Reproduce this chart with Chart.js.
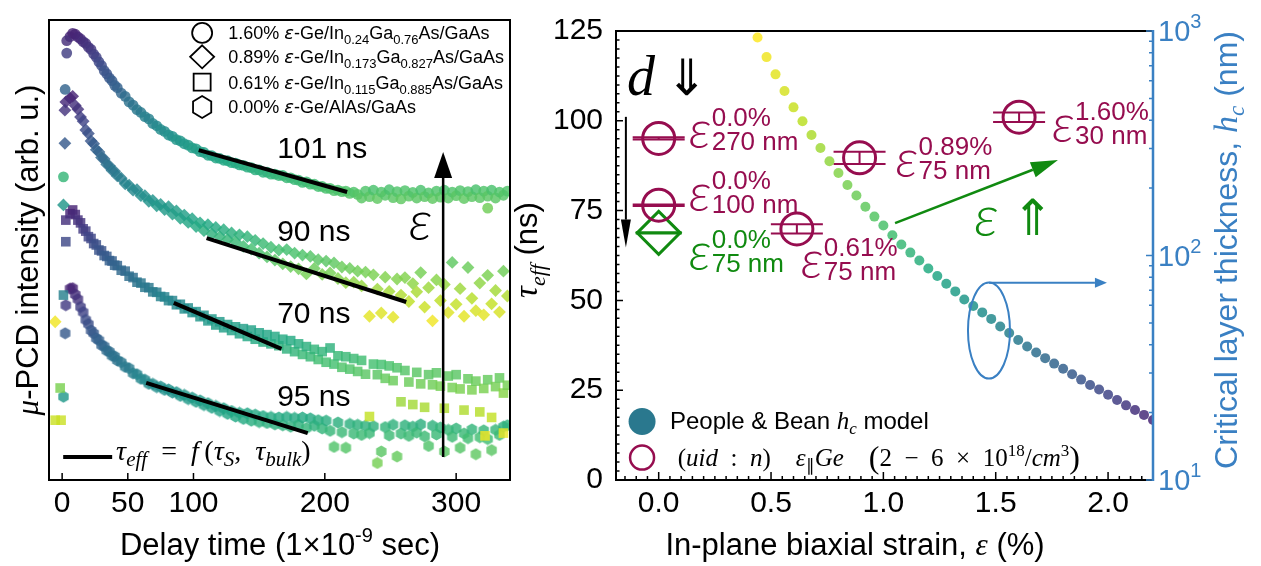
<!DOCTYPE html>
<html>
<head>
<meta charset="utf-8">
<title>Strained Ge lifetime</title>
<script src="https://cdn.jsdelivr.net/npm/chart.js@4.4.1/dist/chart.umd.min.js"></script>
<style>
  html, body { margin: 0; padding: 0; background: #fff; }
  #wrap { position: relative; width: 1261px; height: 566px; }
  #wrap canvas { position: absolute; left: 0; top: 0; }
</style>
</head>
<body>
<div id="wrap">
  <canvas id="decay" width="1261" height="566"></canvas>
  <canvas id="strain" width="1261" height="566"></canvas>
</div>
<script>
// ---------- left panel: u-PCD transients (delay in ns, signal in arb. u., curves offset) ----------
const delayTime = [6, 8, 10, 12, 14, 16, 18, 20, 22, 24,
  26, 28, 30, 32, 34, 36, 38, 40, 42, 45,
  48, 51, 54, 57, 60, 63, 66, 69, 72, 75,
  78, 81, 84, 87, 90, 93, 96, 99, 102, 105,
  108, 111, 114, 117, 120, 123, 126, 129, 132, 135,
  138, 141, 144, 147, 150, 153, 156, 159, 162, 165,
  168, 171, 174, 177, 180, 183, 186, 189, 192, 195,
  198, 201, 204, 207, 210, 213, 216, 219, 222, 225,
  228, 231, 234, 237, 240, 243, 246, 249, 252, 255,
  258, 261, 264, 267, 270, 273, 276, 279, 282, 285,
  288, 291, 294, 297, 300, 303, 306, 309, 312, 315,
  318, 321, 324, 327, 330, 333, 336, 339];

// 1.60 % (circles)
const decay160 = [96.4, 97.1, 96.9, 96.3, 95.9, 95.3, 94.9, 94.1, 93.6, 92.6,
  91.9, 90.9, 90.1, 89.0, 88.3, 87.4, 86.8, 85.8, 85.3, 84.1,
  83.4, 82.2, 81.5, 80.5, 79.9, 79.0, 78.5, 77.5, 77.0, 76.2,
  75.8, 75.0, 74.7, 74.0, 73.7, 73.1, 72.8, 72.2, 72.0, 71.4,
  71.2, 70.6, 70.5, 70.0, 69.9, 69.5, 69.4, 69.0, 68.9, 68.5,
  68.4, 68.0, 67.9, 67.4, 67.4, 66.9, 66.9, 66.5, 66.5, 66.2,
  66.2, 65.7, 65.7, 65.3, 65.2, 64.7, 64.8, 64.3, 64.3, 63.8,
  63.8, 63.4, 63.4, 62.9, 63.0, 62.7, 62.8, 62.3, 62.6, 62.1,
  61.3, 62.8, 61.6, 63.0, 61.2, 62.6, 61.9, 63.1, 61.4, 62.7,
  61.1, 62.9, 61.7, 62.5, 61.3, 63.0, 61.6, 62.4, 61.2, 62.8,
  61.5, 63.0, 61.3, 62.6, 61.8, 62.9, 61.2, 62.7, 61.6, 63.1,
  61.4, 62.8, 61.7, 63.0, 61.3, 62.6, 61.9, 62.8];

// 0.89 % (diamonds)
const decay089 = [83.0, 83.4, 81.4, 80.6, 78.9, 78.0, 76.1, 75.3, 73.7, 73.1,
  71.8, 71.3, 70.1, 69.8, 68.6, 68.3, 67.3, 67.1, 66.1, 65.6,
  64.4, 64.1, 63.0, 63.1, 61.8, 61.8, 60.6, 60.8, 59.6, 59.9,
  58.8, 59.4, 57.8, 58.5, 56.9, 57.6, 56.0, 56.8, 55.1, 55.9,
  54.2, 55.5, 53.5, 54.9, 52.9, 54.4, 52.3, 53.7, 51.8, 53.3,
  50.8, 52.9, 50.2, 52.1, 49.3, 51.4, 48.5, 50.6, 47.8, 50.0,
  47.0, 50.1, 46.4, 49.3, 45.9, 48.9, 44.8, 48.6, 46.0, 47.9,
  44.7, 47.6, 45.0, 47.2, 43.8, 46.3, 42.9, 46.0, 43.0, 45.4,
  42.2, 45.2, 35.6, 44.6, 41.5, 36.3, 44.1, 41.0, 35.4, 43.7,
  40.2, 44.0, 38.8, 42.7, 40.9, 45.1, 37.6, 41.8, 34.6, 43.5,
  39.0, 42.5, 36.4, 47.3, 38.2, 41.6, 35.6, 46.2, 39.5, 36.8,
  42.8, 35.9, 44.5, 38.3, 41.2, 36.5, 45.4, 40.0];

// 0.61 % (squares)
const decay061 = [57.9, 58.7, 57.7, 56.5, 55.9, 54.6, 54.1, 52.9, 52.5, 51.4,
  51.1, 50.0, 49.8, 48.8, 48.6, 47.7, 47.6, 46.7, 46.6, 45.6,
  45.4, 44.3, 44.0, 43.0, 42.8, 41.9, 41.8, 40.9, 40.8, 39.9,
  39.8, 39.0, 39.0, 38.1, 38.2, 37.2, 37.4, 36.4, 36.6, 35.5,
  35.8, 34.6, 35.0, 33.7, 34.4, 33.1, 33.8, 32.5, 33.3, 31.8,
  32.9, 31.2, 32.6, 30.6, 32.0, 30.0, 31.6, 29.6, 31.2, 29.2,
  30.6, 28.5, 30.3, 27.9, 29.6, 27.3, 29.0, 26.8, 28.4, 26.2,
  27.9, 25.6, 28.7, 25.2, 27.0, 24.5, 26.8, 24.1, 26.4, 23.6,
  26.0, 23.0, 13.8, 25.2, 22.9, 25.1, 22.1, 24.8, 21.6, 24.4,
  17.0, 23.8, 21.3, 16.4, 23.4, 20.9, 15.8, 22.9, 20.7, 23.3,
  20.4, 15.6, 22.6, 20.1, 22.9, 19.8, 15.2, 22.0, 19.6, 21.5,
  14.8, 19.9, 21.8, 13.6, 20.3, 22.2, 18.9, 20.6];

// 0.00 % (hexagons)
const decay000 = [41.6, 41.7, 40.3, 39.3, 37.6, 36.5, 34.8, 33.9, 32.5, 31.9,
  30.8, 30.4, 29.3, 29.1, 28.1, 27.9, 27.0, 26.9, 26.0, 25.6,
  24.6, 24.3, 23.2, 23.0, 22.0, 21.8, 20.9, 20.9, 20.2, 20.3,
  19.6, 19.7, 19.0, 19.1, 18.3, 18.5, 17.6, 17.9, 17.0, 17.3,
  16.3, 16.7, 15.7, 16.1, 15.0, 15.6, 14.4, 15.0, 13.8, 14.6,
  13.3, 14.5, 12.9, 14.2, 12.6, 13.9, 12.4, 13.7, 12.1, 13.6,
  11.9, 13.7, 11.6, 13.5, 12.0, 13.6, 11.3, 13.4, 11.8, 13.0,
  11.2, 12.9, 10.7, 7.2, 12.5, 10.4, 7.0, 12.2, 10.1, 12.0,
  9.8, 11.8, 10.2, 11.7, 3.7, 6.2, 11.5, 9.7, 12.0, 5.1,
  10.1, 11.9, 9.6, 11.6, 10.3, 12.1, 9.5, 7.4, 11.8, 9.9,
  11.4, 6.2, 10.9, 9.4, 11.2, 7.0, 10.1, 9.1, 11.0, 5.6,
  9.3, 10.8, 8.9, 6.5, 10.9, 9.8, 11.6, 11.9];

// points recorded before the pulse and a few strays, [delay, signal]
const stray160 = [[3.5, 95.5], [3.5, 92.8], [2.3, 84.9], [1.0, 65.9], [324, 59.1]];
const stray089 = [[2.8, 82.2], [2.1, 80.4], [2.1, 73.2], [1.0, 59.8], [-5.3, 34.4]];
const stray061 = [[2.8, 56.5], [2.8, 51.8], [1.0, 40.2], [-1.5, 20.0], [-0.8, 13.0], [-5.3, 13.0], [322, 9.6], [336, 10.2]];
const stray000 = [[2.8, 38.0], [2.3, 31.9], [1.0, 18.1]];

// straight fits tau_eff = f(tau_S, tau_bulk)
const fit160 = [[104, 71.7], [217, 62.6]];
const fit089 = [[110, 52.6], [262, 38.7]];
const fit061 = [[85, 38.5], [167, 28.5]];
const fit000 = [[64, 21.1], [187, 10.2]];
const lifetimeLabels = ['101 ns', '90 ns', '70 ns', '95 ns'];
const delayTicks = [0, 50, 100, 200, 300];

// ---------- right panel ----------
const modelStrain = [0.44, 0.48, 0.52, 0.56, 0.60, 0.64, 0.68, 0.72, 0.76, 0.80,
  0.84, 0.88, 0.92, 0.96, 1.00, 1.04, 1.08, 1.12, 1.16, 1.20,
  1.24, 1.28, 1.32, 1.36, 1.40, 1.44, 1.48, 1.52, 1.56, 1.60,
  1.64, 1.68, 1.72, 1.76, 1.80, 1.84, 1.88, 1.92, 1.96, 2.00,
  2.04, 2.08, 2.12, 2.16, 2.20];
const modelHc = [935, 765, 641, 540, 457, 396, 344, 301, 263, 233,
  206, 185, 165, 149, 136, 123, 112, 103, 95, 87.5,
  81, 74.8, 69.2, 63.7, 59.6, 55.8, 52.2, 48.3, 45.2, 42,
  39.3, 37, 34.9, 33, 31.3, 29.6, 28, 26.5, 25.3, 24,
  22.7, 21.5, 20.5, 19.5, 18.5];
const uidStrain = [0.0, 0.0, 0.615, 0.894, 1.604];
const uidTau = [95.1, 76.5, 69.9, 89.7, 101.0];
const uidTauErr = [0.3, 0.2, 1.3, 1.7, 1.3];
const uidLabels = [['0.0%', '270 nm'], ['0.0%', '100 nm'], ['0.61%', '75 nm'], ['0.89%', '75 nm'], ['1.60%', '30 nm']];
const alasStrain = [0.0];
const alasTau = [68.8];
const alasTauErr = [0.2];
const alasLabel = ['0.0%', '75 nm'];
const strainTicks = [0, 0.5, 1.0, 1.5, 2.0];
const tauTicks = [0, 25, 50, 75, 100, 125];
const hcTicks = [10, 100, 1000];

// ---------- styling helpers ----------
const SANS = '"Liberation Sans", Arial, sans-serif';
const SERIF = '"Liberation Serif", "Times New Roman", serif';
const DJ = '"DejaVu Sans", sans-serif';
const EPS = 'Lato, "Open Sans", "DejaVu Sans", sans-serif';
const MAROON = '#960d4f';
const GREEN = '#108a10';
const BLUE = '#3a80c3';
Chart.defaults.font.family = SANS;

const VIRIDIS = [[68, 1, 84], [72, 36, 117], [65, 68, 135], [53, 95, 141], [42, 120, 142],
  [33, 145, 140], [34, 168, 132], [68, 191, 112], [122, 209, 81], [189, 223, 38], [253, 231, 37]];
function viridis(t, a) {
  t = Math.min(1, Math.max(0, t));
  const f = t * 10, i = Math.min(9, Math.floor(f)), r = f - i;
  const c = VIRIDIS[i].map((v, k) => Math.round(v + (VIRIDIS[i + 1][k] - v) * r));
  return `rgba(${c[0]},${c[1]},${c[2]},${a})`;
}
// colour follows the signal level relative to each curve's peak
function decayColor(y, peak) {
  return viridis(Math.round((0.1 + (peak - y) * 0.018) * 100) / 100, 0.82);
}

const hexCache = {};
function hexMarker(color) {
  if (!hexCache[color]) {
    const c = document.createElement('canvas');
    c.width = 13; c.height = 13;
    const g = c.getContext('2d');
    g.fillStyle = color;
    g.beginPath();
    for (let k = 0; k < 6; k++) {
      const a = Math.PI / 2 + k * Math.PI / 3;
      const px = 6.5 + 6 * Math.cos(a), py = 6.5 - 6 * Math.sin(a);
      if (k) g.lineTo(px, py); else g.moveTo(px, py);
    }
    g.closePath(); g.fill();
    hexCache[color] = c;
  }
  return hexCache[color];
}

function pts(xs, ys) { return xs.map((x, i) => ({ x: x, y: ys[i] })); }
function pairs(a) { return a.map(p => ({ x: p[0], y: p[1] })); }

function drawRuns(ctx, x, y, list, align) {
  let w = 0;
  list.forEach(r => { ctx.font = r[1]; w += ctx.measureText(r[0]).width; });
  let cx = align === 'center' ? x - w / 2 : x;
  ctx.textAlign = 'left';
  ctx.textBaseline = 'alphabetic';
  list.forEach(r => {
    ctx.font = r[1];
    ctx.fillText(r[0], cx, y + (r[2] || 0));
    cx += ctx.measureText(r[0]).width;
  });
}

function arrow(ctx, x0, y0, x1, y1, len, half, color, lw) {
  const ang = Math.atan2(y1 - y0, x1 - x0);
  const bx = x1 - len * Math.cos(ang), by = y1 - len * Math.sin(ang);
  ctx.strokeStyle = color; ctx.fillStyle = color; ctx.lineWidth = lw;
  ctx.beginPath(); ctx.moveTo(x0, y0); ctx.lineTo(bx, by); ctx.stroke();
  ctx.beginPath();
  ctx.moveTo(x1, y1);
  ctx.lineTo(bx + half * Math.sin(ang), by - half * Math.cos(ang));
  ctx.lineTo(bx - half * Math.sin(ang), by + half * Math.cos(ang));
  ctx.closePath(); ctx.fill();
}

function openShape(ctx, kind, cx, cy) {
  ctx.beginPath();
  if (kind === 'circle') ctx.arc(cx, cy, 10, 0, Math.PI * 2);
  if (kind === 'diamond') { ctx.moveTo(cx, cy - 11.5); ctx.lineTo(cx + 12, cy); ctx.lineTo(cx, cy + 11.5); ctx.lineTo(cx - 12, cy); ctx.closePath(); }
  if (kind === 'square') ctx.rect(cx - 8.5, cy - 8.5, 17, 17);
  if (kind === 'hexagon') {
    for (let k = 0; k < 6; k++) {
      const a = Math.PI / 2 + k * Math.PI / 3;
      const px = cx + 10.5 * Math.cos(a), py = cy - 11 * Math.sin(a);
      if (k) ctx.lineTo(px, py); else ctx.moveTo(px, py);
    }
    ctx.closePath();
  }
  ctx.stroke();
}

// ---------- left chart ----------
const decaySeries = [
  { data: pts(delayTime, decay160).concat(pairs(stray160)), peak: 97.1, style: 'circle', r: 5.4 },
  { data: pts(delayTime, decay089).concat(pairs(stray089)), peak: 83.4, style: 'rectRot', r: 6.4 },
  { data: pts(delayTime, decay061).concat(pairs(stray061)), peak: 58.7, style: 'rect', r: 6.8 },
  { data: pts(delayTime, decay000).concat(pairs(stray000)), peak: 41.8, style: 'hex', r: 6 }
];

const decayDecor = {
  id: 'decayDecor',
  afterDraw(chart) {
    const { ctx, chartArea: a, scales: { x, y } } = chart;
    const X = v => x.getPixelForValue(v), Y = v => y.getPixelForValue(v);
    ctx.save();
    ctx.strokeStyle = '#000'; ctx.lineWidth = 2;
    ctx.strokeRect(a.left, a.top, a.right - a.left, a.bottom - a.top);
    ctx.lineWidth = 1.5; ctx.beginPath();
    delayTicks.forEach(v => { ctx.moveTo(X(v), a.bottom); ctx.lineTo(X(v), a.bottom - 7); });
    ctx.stroke();

    ctx.fillStyle = '#000';
    const labelY = [70.0, 52.0, 34.1, 16.1];
    lifetimeLabels.forEach((t, i) => drawRuns(ctx, X(163.7), Y(labelY[i]), [[t, `30px ${SANS}`]]));
    drawRuns(ctx, X(264), Y(52.2), [['\u03b5', `italic 300 56px ${EPS}`]]);
    arrow(ctx, X(290.1), Y(5.0), X(290.1), Y(71.3), 26, 9, '#000', 2.5);

    // marker legend
    const rows = [97.2, 92.0, 86.5, 81.1];
    const kinds = ['circle', 'diamond', 'square', 'hexagon'];
    const F = `18px ${SANS}`, Fs = `13px ${SANS}`, Fe = `italic 18px ${DJ}`;
    const texts = [
      [['1.60% ', F], ['\u03b5', Fe], ['-Ge/In', F], ['0.24', Fs, 5], ['Ga', F], ['0.76', Fs, 5], ['As/GaAs', F]],
      [['0.89% ', F], ['\u03b5', Fe], ['-Ge/In', F], ['0.173', Fs, 5], ['Ga', F], ['0.827', Fs, 5], ['As/GaAs', F]],
      [['0.61% ', F], ['\u03b5', Fe], ['-Ge/In', F], ['0.115', Fs, 5], ['Ga', F], ['0.885', Fs, 5], ['As/GaAs', F]],
      [['0.00% ', F], ['\u03b5', Fe], ['-Ge/AlAs/GaAs', F]]
    ];
    ctx.strokeStyle = '#000'; ctx.lineWidth = 1.8;
    rows.forEach((r, i) => {
      openShape(ctx, kinds[i], X(106.6), Y(r));
      drawRuns(ctx, X(126.4), Y(r) + 6.5, texts[i]);
    });

    // fit legend
    ctx.lineWidth = 4;
    ctx.beginPath(); ctx.moveTo(X(0.8), Y(5.0)); ctx.lineTo(X(38.1), Y(5.0)); ctx.stroke();
    const I = `italic 28px ${SERIF}`, S = `28px ${SERIF}`, s = `italic 21px ${SERIF}`;
    drawRuns(ctx, X(41.1), Y(4.35), [['\u03c4', I], ['eff', s, 6], ['\u2002=\u2002', S], ['f', I], ['\u2009(', S], ['\u03c4', I], ['S', s, 6],
      [',\u2002', S], ['\u03c4', I], ['bulk', s, 6], [')', S]]);

    // axis titles
    const T = `31px ${SANS}`;
    drawRuns(ctx, 280, 555, [['Delay time (1\u00d710', T], ['-9', `20px ${SANS}`, -13], [' sec)', T]], 'center');
    ctx.translate(38, 250); ctx.rotate(-Math.PI / 2);
    drawRuns(ctx, 0, 0, [['\u03bc', `italic 31px ${SERIF}`], ['-PCD intensity (arb. u.)', T]], 'center');
    ctx.restore();
  }
};

new Chart(document.getElementById('decay'), {
  type: 'scatter',
  data: {
    datasets: [fit160, fit089, fit061, fit000].map(f => ({
      data: pairs(f), showLine: true, borderColor: '#000', borderWidth: 4, pointRadius: 0, order: 0
    })).concat(decaySeries.map((s, i) => ({
      data: s.data,
      order: 5 + i,
      pointStyle: s.style === 'hex' ? (c => c.raw ? hexMarker(decayColor(c.raw.y, s.peak)) : 'circle') : s.style,
      pointRadius: s.r,
      pointBorderWidth: 0,
      pointBorderColor: 'rgba(0,0,0,0)',
      pointBackgroundColor: c => c.raw ? decayColor(c.raw.y, s.peak) : '#000'
    })))
  },
  options: {
    responsive: false, animation: false, devicePixelRatio: 1, events: [],
    layout: { padding: { left: 0, top: 20, right: 751, bottom: 0 } },
    plugins: { legend: { display: false }, tooltip: { enabled: false } },
    scales: {
      x: {
        type: 'linear', min: -10, max: 341,
        grid: { display: false, drawTicks: false }, border: { display: false },
        afterBuildTicks: s => { s.ticks = delayTicks.map(v => ({ value: v })); },
        ticks: { font: { size: 30 }, color: '#000', padding: 6, maxRotation: 0, autoSkip: false },
        afterFit: s => { s.height = 86; }
      },
      y: {
        min: 0, max: 100,
        ticks: { display: false }, grid: { display: false, drawTicks: false }, border: { display: false },
        afterFit: s => { s.width = 49; }
      }
    }
  },
  plugins: [decayDecor]
});

// ---------- right chart ----------
function errBars(ctx, x, y, xs, ys, es, color, cap) {
  ctx.strokeStyle = color; ctx.lineWidth = 2;
  xs.forEach((xv, i) => {
    const px = x.getPixelForValue(xv);
    const y0 = y.getPixelForValue(ys[i] - es[i]), y1 = y.getPixelForValue(ys[i] + es[i]);
    ctx.beginPath();
    ctx.moveTo(px, y0); ctx.lineTo(px, y1);
    ctx.moveTo(px - cap, y0); ctx.lineTo(px + cap, y0);
    ctx.moveTo(px - cap, y1); ctx.lineTo(px + cap, y1);
    ctx.stroke();
  });
}

function epsLabel(ctx, x, T, sup, sub, color) {
  ctx.fillStyle = color;
  ctx.textAlign = 'left'; ctx.textBaseline = 'alphabetic';
  ctx.font = `italic 300 54px ${EPS}`; ctx.fillText('\u03b5', x - 2, T + 42);
  ctx.font = `26px ${SANS}`;
  ctx.fillText(sup, x + 21, T + 20);
  ctx.fillText(sub, x + 21, T + 44);
}

const strainDecor = {
  id: 'strainDecor',
  beforeDatasetsDraw(chart) {
    const { ctx, scales: { x, y } } = chart;
    ctx.save();
    errBars(ctx, x, y, uidStrain, uidTau, uidTauErr, MAROON, 26);
    errBars(ctx, x, y, alasStrain, alasTau, alasTauErr, GREEN, 23);
    ctx.restore();
  },
  afterDraw(chart) {
    const { ctx, chartArea: a, scales: { x, y, y2 } } = chart;
    const X = v => x.getPixelForValue(v), Y = v => y.getPixelForValue(v);
    ctx.save();
    // frame
    ctx.strokeStyle = '#000'; ctx.lineWidth = 2;
    ctx.beginPath();
    ctx.moveTo(a.right, a.top); ctx.lineTo(a.left, a.top); ctx.lineTo(a.left, a.bottom); ctx.lineTo(a.right, a.bottom);
    ctx.stroke();
    // inward ticks, bottom and left
    ctx.lineWidth = 1.5; ctx.beginPath();
    for (let k = -3; k <= 44; k++) {
      const v = k * 0.05, px = X(v);
      if (px < a.left + 1 || px > a.right - 1) continue;
      const len = k % 10 === 0 ? 8 : 4;
      ctx.moveTo(px, a.bottom); ctx.lineTo(px, a.bottom - len);
    }
    for (let k = 0; k <= 50; k++) {
      const py = Y(k * 2.5), len = k % 10 === 0 ? 7 : 3.5;
      ctx.moveTo(a.left, py); ctx.lineTo(a.left + len, py);
    }
    ctx.stroke();
    // right log axis
    ctx.strokeStyle = BLUE; ctx.lineWidth = 2.5;
    ctx.beginPath(); ctx.moveTo(a.right, a.top - 1); ctx.lineTo(a.right, a.bottom + 1); ctx.stroke();
    ctx.lineWidth = 1.5; ctx.beginPath();
    [10, 100].forEach(d => {
      for (let m = 1; m <= 10; m++) {
        const py = y2.getPixelForValue(m * d), len = (m === 1 || m === 10) ? 7 : 4;
        ctx.moveTo(a.right, py); ctx.lineTo(a.right - len, py);
      }
    });
    ctx.stroke();
    ctx.fillStyle = BLUE;
    hcTicks.forEach(v => {
      const e = String(Math.round(Math.log10(v)));
      drawRuns(ctx, a.right + 5, y2.getPixelForValue(v) + 10, [['10', `29px ${SANS}`], [e, `20px ${SANS}`, -13]]);
    });

    // labels of the measured samples
    const offs = [[32, -32], [32, -36], [6, 7], [38, -23], [35, -17]];
    uidLabels.forEach((l, i) => {
      const px = X(uidStrain[i]), py = Y(uidTau[i]);
      epsLabel(ctx, px + offs[i][0], py + offs[i][1], l[0], l[1], MAROON);
    });
    epsLabel(ctx, X(alasStrain[0]) + 32, Y(alasTau[0]) - 5, alasLabel[0], alasLabel[1], GREEN);

    // thickness trend
    ctx.fillStyle = '#000';
    drawRuns(ctx, X(-0.141), Y(107.3), [['d', `italic 56px ${SERIF}`]]);
    ctx.font = `50px ${DJ}`; ctx.textAlign = 'center'; ctx.textBaseline = 'middle';
    ctx.fillText('\u21d3', X(0.126), Y(110.9));
    arrow(ctx, X(-0.146), Y(101.1), X(-0.146), Y(64.7), 28, 5, '#000', 2);

    // strain trend
    arrow(ctx, X(1.052), Y(71.5), X(1.777), Y(89.1), 27, 8, GREEN, 2.5);
    ctx.fillStyle = GREEN;
    drawRuns(ctx, X(1.404), Y(67.9), [['\u03b5', `italic 300 58px ${EPS}`]]);
    ctx.font = `50px ${DJ}`; ctx.textAlign = 'center'; ctx.textBaseline = 'middle';
    ctx.fillText('\u21d1', X(1.666), Y(71.7));

    // model curve marker -> right axis
    ctx.strokeStyle = BLUE; ctx.lineWidth = 2;
    ctx.beginPath(); ctx.ellipse(X(1.470), Y(41.6), 21, 48, 0, 0, Math.PI * 2); ctx.stroke();
    arrow(ctx, X(1.470), Y(54.9), X(1.995), Y(54.9), 12, 5, BLUE, 2);

    // legend
    ctx.fillStyle = viridis(0.4, 1);
    ctx.beginPath(); ctx.arc(X(-0.074), Y(16.3), 13.5, 0, Math.PI * 2); ctx.fill();
    ctx.strokeStyle = MAROON; ctx.lineWidth = 2.5;
    ctx.beginPath(); ctx.arc(X(-0.074), Y(6.25), 12, 0, Math.PI * 2); ctx.stroke();
    ctx.fillStyle = '#000';
    drawRuns(ctx, X(0.050), Y(14.1), [['People & Bean ', `24px ${SANS}`], ['h', `italic 25px ${SERIF}`], ['c', `italic 17px ${SERIF}`, 5], [' model', `24px ${SANS}`]]);
    const S = `25px ${SERIF}`, I = `italic 25px ${SERIF}`, sm = `17px ${SERIF}`, B = `32px ${SERIF}`;
    drawRuns(ctx, X(0.085), Y(3.8), [['(', S], ['uid', I], ['\u2002:\u2002', S], ['n', I], [')\u2003', S], ['\u03b5', I], ['\u2225', sm, 5], ['Ge', I],
      ['\u2003', S], ['(', B, 2], ['2\u2002\u2212\u20026\u2002\u00d7\u200210', S], ['18', sm, -10], ['/', S], ['cm', I], ['3', sm, -10], [')', B, 2]]);

    // axis titles
    const T = `31px ${SANS}`;
    drawRuns(ctx, 855, 555, [['In-plane biaxial strain, ', T], ['\u03b5', `italic 31px ${SERIF}`], [' (%)', T]], 'center');
    ctx.save();
    ctx.translate(537, 250); ctx.rotate(-Math.PI / 2);
    drawRuns(ctx, 0, 0, [['\u03c4', `italic 33px ${SERIF}`], ['eff', `italic 22px ${SERIF}`, 8], [' (ns)', T]], 'center');
    ctx.restore();
    ctx.translate(1237, 250); ctx.rotate(-Math.PI / 2);
    ctx.fillStyle = BLUE;
    const T2 = `32px ${SANS}`;
    drawRuns(ctx, 0, 0, [['Critical layer thickness, ', T2], ['h', `italic 34px ${SERIF}`], ['c', `italic 23px ${SERIF}`, 7], [' (nm)', T2]], 'center');
    ctx.restore();
  }
};

new Chart(document.getElementById('strain'), {
  type: 'scatter',
  data: {
    datasets: [
      {
        label: '(uid:n) strained Ge', data: pts(uidStrain, uidTau), order: 1,
        pointStyle: 'circle', pointRadius: 16, pointBorderWidth: 3,
        pointBorderColor: MAROON, pointBackgroundColor: 'rgba(0,0,0,0)'
      },
      {
        label: 'Ge/AlAs', data: pts(alasStrain, alasTau), order: 1,
        pointStyle: 'rectRot', pointRadius: 21.5, pointBorderWidth: 3,
        pointBorderColor: GREEN, pointBackgroundColor: 'rgba(0,0,0,0)'
      },
      {
        label: 'People & Bean hc model', data: pts(modelStrain, modelHc), yAxisID: 'y2', order: 0,
        pointRadius: 5, pointBorderWidth: 0,
        pointBackgroundColor: c => c.raw ? viridis(0.1 + 0.9 * (2.2 - c.raw.x) / 1.76, 0.85) : '#000'
      }
    ]
  },
  options: {
    responsive: false, animation: false, devicePixelRatio: 1, events: [],
    layout: { padding: { left: 0, top: 20, right: 0, bottom: 0 } },
    plugins: { legend: { display: false }, tooltip: { enabled: false } },
    scales: {
      x: {
        type: 'linear', min: -0.19, max: 2.2,
        grid: { display: false, drawTicks: false }, border: { display: false },
        afterBuildTicks: s => { s.ticks = strainTicks.map(v => ({ value: v })); },
        ticks: { font: { size: 30 }, color: '#000', padding: 6, maxRotation: 0, autoSkip: false, callback: v => v.toFixed(1) },
        afterFit: s => { s.height = 86; }
      },
      y: {
        position: 'left', min: 0, max: 125,
        grid: { display: false, drawTicks: false }, border: { display: false },
        afterBuildTicks: s => { s.ticks = tauTicks.map(v => ({ value: v })); },
        ticks: { font: { size: 30 }, color: '#000', padding: 13 },
        afterFit: s => { s.width = 616; }
      },
      y2: {
        type: 'logarithmic', position: 'right', min: 10, max: 1000,
        grid: { display: false, drawTicks: false }, border: { display: false },
        ticks: { display: false },
        afterFit: s => { s.width = 108; }
      }
    }
  },
  plugins: [strainDecor]
});
</script>
</body>
</html>
